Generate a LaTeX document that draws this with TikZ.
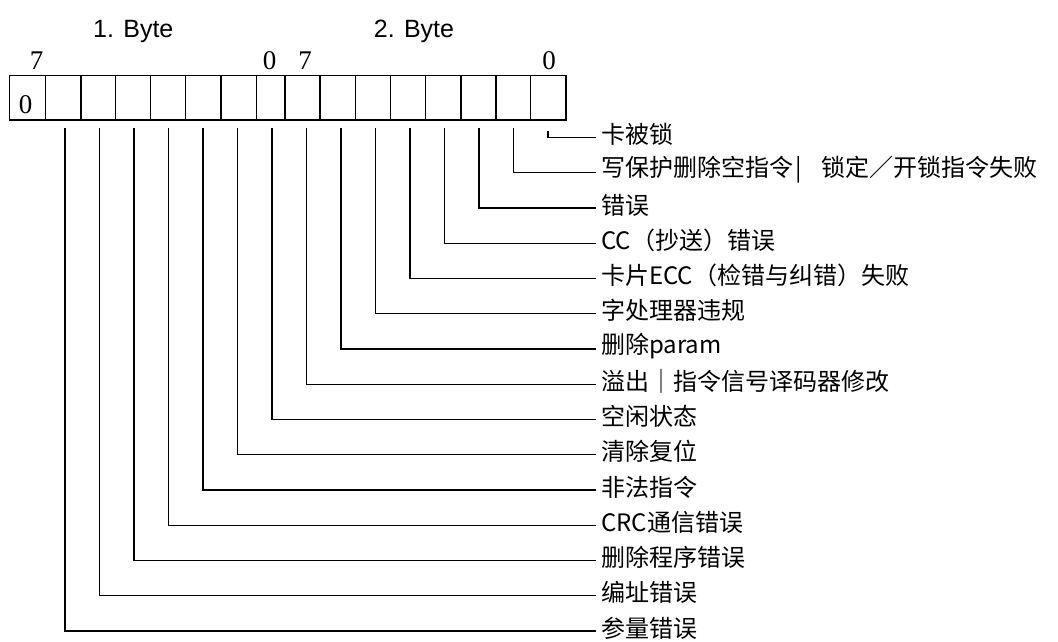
\documentclass[tikz,border=0pt]{standalone}
\usepackage{fontspec}
\setmainfont{Liberation Serif}
\newfontfamily\cjkf{Noto Sans CJK SC}
\newfontfamily\arialf{Liberation Sans}
\begin{document}
\begin{tikzpicture}[x=1pt,y=-1pt,
  cell/.style={draw, line width=1.2pt, inner sep=0pt, minimum height=44.5pt},
  lab/.style={font=\cjkf\fontsize{24}{24}\selectfont, anchor=west, inner sep=0pt},
  num/.style={font=\fontsize{27}{27}\selectfont, inner sep=0pt, anchor=base},
  byte/.style={font=\arialf\fontsize{25}{25}\selectfont, inner sep=0pt, anchor=base},
  conn/.style={line width=1.1pt}]
\useasboundingbox[fill=white] (0,0) rectangle (1058,642);

% register cells
\foreach \i/\a/\b in {1/9.5/45.5, 2/45.5/81, 3/81/115.5, 4/115.5/150.5, 5/150.5/185.5,
  6/185.5/221, 7/221/256.5, 8/256.5/285, 9/285/320, 10/320/355.5, 11/355.5/390.5,
  12/390.5/425.5, 13/425.5/461, 14/461/496, 15/496/530.5, 16/530.5/566}
  \node[cell, minimum width={\b pt-\a pt}] (c\i) at ({(\a+\b)/2}, 97.75) {};

\node[num] (z0) at (25.5,113.3) {0};

% bit numbers and byte titles
\node[byte] (b1) at (133.3,38) {1. Byte};
\node[byte] (b2) at (414,38) {2. Byte};
\node[num] (n1) at (36.5,70) {7};
\node[num] (n2) at (269.5,70) {0};
\node[num] (n3) at (305,70) {7};
\node[num] (n4) at (549,70) {0};

% labels
\node[lab] (l16) at (601,134.5) {卡被锁};
\node[lab] (l15) at (601,169.75) {写保护删除空指令\makebox[0.5em]{|}\hspace{0.7em}锁定／开锁指令失败};
\node[lab] (l14) at (601,205) {错误};
\node[lab] (l13) at (601,240.25) {CC（抄送）错误};
\node[lab] (l12) at (601,275.5) {卡片ECC（检错与纠错）失败};
\node[lab] (l11) at (601,310.75) {字处理器违规};
\node[lab] (l10) at (601,346) {删除param};
\node[lab] (l9) at (601,381.25) {溢出｜指令信号译码器修改};
\node[lab] (l8) at (601,416.5) {空闲状态};
\node[lab] (l7) at (601,451.75) {清除复位};
\node[lab] (l6) at (601,487) {非法指令};
\node[lab] (l5) at (601,522.25) {CRC通信错误};
\node[lab] (l4) at (601,557.5) {删除程序错误};
\node[lab] (l3) at (601,592.75) {编址错误};
\node[lab] (l2) at (601,628) {参量错误};

% connector start points under the cells
\foreach \k/\x in {2/65, 3/99.5, 4/134, 5/168.5, 6/203, 7/237.5, 8/272, 9/306.5,
  10/341, 11/375.5, 12/410, 13/444.5, 14/479, 15/513.5}
  \coordinate (t\k) at (\x,128);
\coordinate (t16) at (548,131);

\foreach \k in {2,...,16}
  \draw[conn] (t\k) |- ([shift={(-5pt,-3pt)}]l\k.west);
\end{tikzpicture}
\end{document}
